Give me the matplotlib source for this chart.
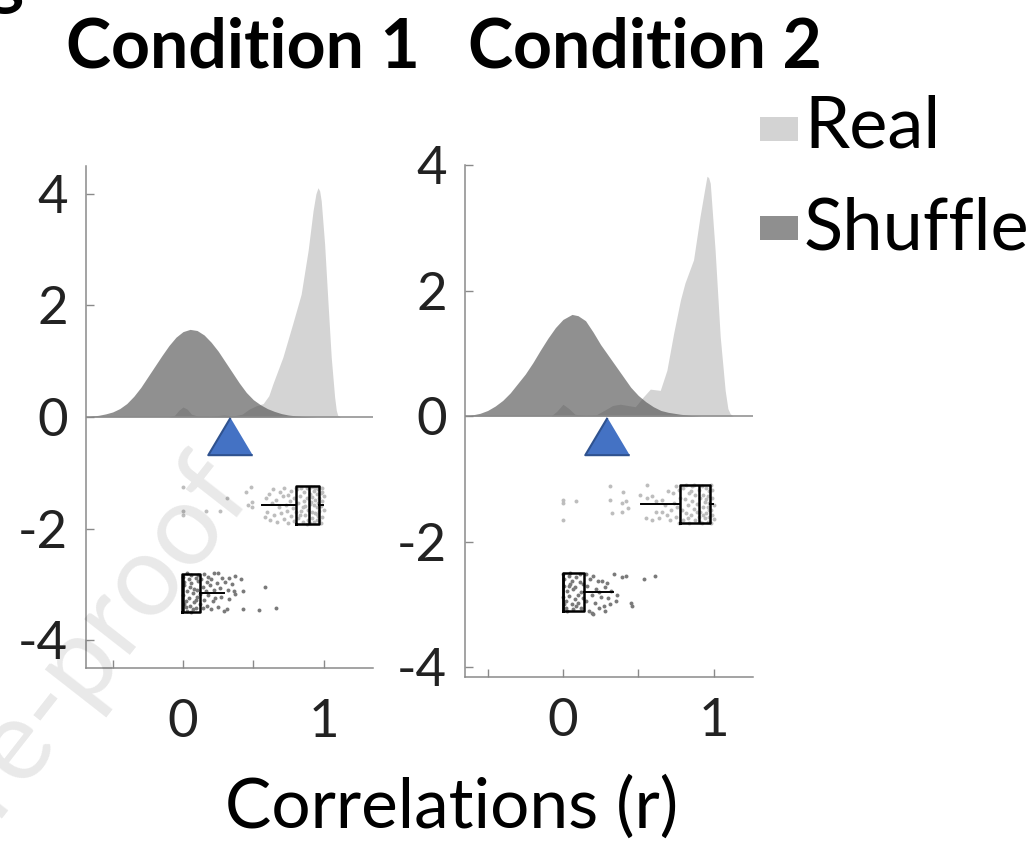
import matplotlib
matplotlib.use('Agg')
import matplotlib.pyplot as plt
from matplotlib.patches import Rectangle

plt.rcParams['font.family'] = ['Lato', 'DejaVu Sans']
plt.rcParams['axes.unicode_minus'] = False

# density curves, (r, density) pairs
c1_real_kde = [(-0.10, 0.0), (-0.06, 0.03), (-0.03, 0.12), (0.0, 0.18), (0.03, 0.14), (0.06, 0.05),
               (0.10, 0.02), (0.20, 0.015), (0.29, 0.035), (0.36, 0.02), (0.42, 0.05), (0.47, 0.14),
               (0.52, 0.20), (0.57, 0.24), (0.61, 0.38), (0.64, 0.60), (0.71, 1.07), (0.78, 1.67),
               (0.84, 2.20), (0.89, 2.99), (0.925, 3.70), (0.945, 4.00), (0.96, 4.11), (0.972, 4.05),
               (0.983, 3.87), (1.007, 3.10), (1.03, 2.09), (1.054, 1.07), (1.078, 0.36), (1.09, 0.12),
               (1.10, 0.03), (1.12, 0.0)]
c1_shuf_kde = [(-0.68, 0.0), (-0.65, 0.015), (-0.60, 0.03), (-0.55, 0.055), (-0.50, 0.09), (-0.45, 0.15),
               (-0.40, 0.24), (-0.35, 0.37), (-0.30, 0.53), (-0.25, 0.72), (-0.20, 0.91), (-0.15, 1.10),
               (-0.10, 1.28), (-0.05, 1.43), (0.0, 1.53), (0.05, 1.57), (0.10, 1.55), (0.15, 1.47),
               (0.20, 1.34), (0.25, 1.18), (0.30, 0.99), (0.35, 0.80), (0.40, 0.61), (0.45, 0.44),
               (0.50, 0.31), (0.55, 0.22), (0.60, 0.15), (0.65, 0.10), (0.70, 0.06), (0.75, 0.035),
               (0.80, 0.02), (0.85, 0.01), (0.90, 0.005), (0.95, 0.0)]
c2_real_kde = [(-0.08, 0.0), (-0.04, 0.08), (0.0, 0.19), (0.04, 0.12), (0.08, 0.03), (0.15, 0.01),
               (0.22, 0.02), (0.28, 0.10), (0.33, 0.17), (0.38, 0.19), (0.43, 0.17), (0.48, 0.15),
               (0.535, 0.31), (0.58, 0.43), (0.646, 0.41), (0.69, 0.73), (0.735, 1.32), (0.78, 1.85),
               (0.81, 2.12), (0.867, 2.49), (0.91, 3.18), (0.94, 3.60), (0.956, 3.82), (0.967, 3.80),
               (0.978, 3.71), (1.01, 2.65), (1.044, 1.27), (1.077, 0.41), (1.095, 0.12), (1.11, 0.04),
               (1.13, 0.0)]
c2_shuf_kde = [(-0.64, 0.0), (-0.60, 0.02), (-0.55, 0.045), (-0.50, 0.09), (-0.45, 0.16), (-0.40, 0.25),
               (-0.35, 0.37), (-0.30, 0.52), (-0.25, 0.67), (-0.20, 0.85), (-0.15, 1.05), (-0.10, 1.24),
               (-0.05, 1.41), (0.0, 1.54), (0.06, 1.62), (0.10, 1.60), (0.15, 1.52), (0.20, 1.34),
               (0.25, 1.14), (0.30, 0.97), (0.35, 0.80), (0.40, 0.63), (0.45, 0.46), (0.50, 0.33),
               (0.55, 0.23), (0.60, 0.15), (0.65, 0.09), (0.70, 0.06), (0.78, 0.03), (0.85, 0.01),
               (0.92, 0.0)]

# raw correlations (r, jitter row)
c1_real_dots = [(0.00, -1.25), (0.00, -1.69), (0.00, -1.75), (0.16, -1.69), (0.26, -1.68), (0.31, -1.46),
                (0.45, -1.34), (0.48, -1.25), (0.46, -1.58), (0.49, -1.62), (0.49, -1.52),
                (0.58, -1.80), (0.59, -1.45), (0.60, -1.70), (0.61, -1.38), (0.62, -1.85), (0.63, -1.55),
                (0.64, -1.30), (0.65, -1.75), (0.66, -1.48), (0.67, -1.88), (0.68, -1.62), (0.69, -1.35),
                (0.70, -1.72), (0.71, -1.42), (0.72, -1.83), (0.72, -1.28), (0.73, -1.58), (0.74, -1.68),
                (0.75, -1.40), (0.75, -1.90), (0.76, -1.50), (0.77, -1.78), (0.77, -1.32), (0.78, -1.63),
                (0.79, -1.45), (0.79, -1.86), (0.80, -1.27), (0.80, -1.70),
                (0.81, -1.30), (0.82, -1.55), (0.82, -1.82), (0.83, -1.42), (0.84, -1.68), (0.84, -1.27),
                (0.85, -1.88), (0.86, -1.50), (0.86, -1.35), (0.87, -1.75), (0.87, -1.60), (0.88, -1.28),
                (0.88, -1.45), (0.89, -1.85), (0.89, -1.66), (0.90, -1.38), (0.90, -1.90), (0.91, -1.52),
                (0.91, -1.25), (0.92, -1.70), (0.92, -1.43), (0.92, -1.82), (0.93, -1.33), (0.93, -1.58),
                (0.93, -1.88), (0.94, -1.48), (0.94, -1.72), (0.94, -1.27), (0.95, -1.62), (0.95, -1.38),
                (0.95, -1.85), (0.96, -1.30), (0.96, -1.55), (0.96, -1.78), (0.97, -1.45), (0.97, -1.68),
                (0.97, -1.25), (0.98, -1.90), (0.98, -1.36), (0.98, -1.60), (0.99, -1.50), (0.99, -1.80),
                (0.99, -1.28), (1.00, -1.66), (1.00, -1.42), (0.83, -1.76), (0.85, -1.62), (0.88, -1.92),
                (0.90, -1.56), (0.93, -1.26), (0.95, -1.74), (0.97, -1.84), (0.99, -1.34)]
c1_shuf_dots = [(0.00, -2.86), (0.01, -3.02), (0.00, -3.20), (0.02, -3.40), (0.01, -2.95), (0.03, -3.12),
                (0.02, -3.30), (0.04, -2.90), (0.03, -3.48), (0.05, -3.05), (0.04, -3.25), (0.06, -2.84),
                (0.05, -3.38), (0.07, -3.15), (0.06, -2.98), (0.08, -3.32), (0.07, -3.45), (0.09, -2.88),
                (0.08, -3.08), (0.10, -3.22), (0.09, -3.42), (0.11, -2.94), (0.10, -3.10), (0.12, -3.35),
                (0.11, -2.83), (0.12, -3.18), (0.01, -3.36), (0.03, -2.80), (0.06, -3.50), (0.09, -3.28),
                (0.13, -2.90), (0.14, -3.05), (0.14, -3.42), (0.15, -2.82), (0.15, -3.28), (0.16, -3.12),
                (0.17, -2.95), (0.17, -3.38), (0.18, -2.86), (0.18, -3.20), (0.19, -3.02), (0.20, -3.45),
                (0.20, -2.91), (0.21, -3.30), (0.22, -2.80), (0.22, -3.10), (0.23, -3.25), (0.24, -2.97),
                (0.25, -2.80), (0.25, -3.40), (0.26, -3.06), (0.27, -3.22), (0.28, -2.88), (0.29, -3.48),
                (0.30, -2.95), (0.31, -3.45), (0.32, -3.10), (0.33, -2.89), (0.33, -3.27), (0.35, -3.00),
                (0.36, -3.12), (0.37, -2.85), (0.37, -3.18), (0.41, -2.91), (0.43, -3.12), (0.43, -3.45),
                (0.54, -3.46), (0.58, -3.05), (0.66, -3.43)]
c2_real_dots = [(0.00, -1.33), (0.00, -1.38), (0.00, -1.65), (0.086, -1.35), (0.314, -1.12), (0.40, -1.21),
                (0.314, -1.33), (0.39, -1.38), (0.42, -1.35), (0.325, -1.54), (0.39, -1.52), (0.43, -1.47),
                (0.51, -1.25), (0.557, -1.10), (0.557, -1.30), (0.59, -1.28), (0.62, -1.35), (0.657, -1.34),
                (0.62, -1.52), (0.657, -1.52), (0.55, -1.62), (0.59, -1.65), (0.69, -1.57), (0.71, -1.65),
                (0.72, -1.50), (0.73, -1.23), (0.74, -1.38), (0.75, -1.12), (0.75, -1.60), (0.76, -1.45),
                (0.77, -1.70), (0.77, -1.18), (0.78, -1.30), (0.68, -1.42), (0.70, -1.20), (0.64, -1.62),
                (0.79, -1.50), (0.80, -1.15), (0.80, -1.65), (0.81, -1.32), (0.82, -1.55), (0.82, -1.10),
                (0.83, -1.42), (0.84, -1.70), (0.84, -1.22), (0.85, -1.58), (0.86, -1.35), (0.86, -1.12),
                (0.87, -1.48), (0.88, -1.66), (0.88, -1.25), (0.89, -1.40), (0.90, -1.18), (0.90, -1.60),
                (0.91, -1.30), (0.91, -1.52), (0.92, -1.70), (0.92, -1.12), (0.93, -1.44), (0.93, -1.26),
                (0.94, -1.62), (0.94, -1.36), (0.95, -1.15), (0.95, -1.55), (0.96, -1.68), (0.96, -1.28),
                (0.96, -1.45), (0.97, -1.20), (0.97, -1.60), (0.97, -1.38), (0.98, -1.10), (0.98, -1.50),
                (0.98, -1.70), (0.99, -1.30), (0.99, -1.58), (0.99, -1.18), (1.00, -1.42), (1.00, -1.64),
                (0.83, -1.62), (0.85, -1.20), (0.87, -1.10), (0.89, -1.52), (0.91, -1.68), (0.93, -1.58),
                (0.95, -1.32), (0.97, -1.50)]
c2_shuf_dots = [(0.00, -2.52), (0.01, -2.70), (0.00, -2.88), (0.02, -3.05), (0.01, -2.60), (0.03, -2.78),
                (0.02, -2.95), (0.04, -2.55), (0.03, -3.10), (0.05, -2.68), (0.04, -2.86), (0.06, -3.00),
                (0.05, -2.50), (0.07, -2.75), (0.06, -2.62), (0.08, -2.92), (0.07, -3.08), (0.09, -2.56),
                (0.08, -2.72), (0.10, -2.85), (0.09, -3.02), (0.11, -2.64), (0.10, -2.98), (0.12, -2.80),
                (0.11, -2.52), (0.13, -2.90), (0.12, -3.06), (0.13, -2.68), (0.01, -3.00), (0.04, -2.70),
                (0.15, -2.52), (0.15, -2.95), (0.16, -2.70), (0.17, -3.10), (0.18, -2.60), (0.19, -2.85),
                (0.19, -3.13), (0.20, -2.54), (0.21, -2.97), (0.22, -2.75), (0.23, -2.62), (0.24, -3.05),
                (0.25, -2.88), (0.26, -2.63), (0.27, -3.02), (0.28, -2.72), (0.28, -3.10), (0.29, -2.66),
                (0.30, -2.90), (0.31, -3.00), (0.32, -2.78), (0.34, -2.52), (0.35, -2.94), (0.36, -2.85),
                (0.39, -2.57), (0.42, -2.54), (0.45, -2.98), (0.46, -3.03), (0.535, -2.60), (0.61, -2.54),
                (0.20, -3.15), (0.24, -2.80)]

# box summaries: whisker low, q1, median, q3, whisker high
c1_real_box = [0.56, 0.80, 0.895, 0.97, 0.995]
c1_shuf_box = [-0.005, -0.005, 0.0, 0.12, 0.295]
c2_real_box = [0.518, 0.78, 0.90, 0.978, 0.996]
c2_shuf_box = [0.0, 0.0, 0.0, 0.137, 0.332]

# mean real-vs-shuffle difference markers
c1_marker = 0.333
c2_marker = 0.292

REAL_C = '#d4d4d4'
SHUF_C = '#4d4d4d'
AXIS_C = '#8a8a8a'
TRI = [(0, 0.84), (-1, -0.84), (1, -0.84)]


def to_stats(b):
    return dict(whislo=b[0], q1=b[1], med=b[2], q3=b[3], whishi=b[4], fliers=[])


def draw_panel(ax, real_kde, shuf_kde, real_dots, shuf_dots, real_box, shuf_box,
               rows, box_h, marker_x, marker_y, xlim, ylim, xpad):
    rx, ry = zip(*real_kde)
    sx, sy = zip(*shuf_kde)
    ax.fill_between(rx, 0, ry, color=REAL_C, lw=0, zorder=1)
    ax.fill_between(sx, 0, sy, color=SHUF_C, alpha=0.62, lw=0, zorder=2)
    ax.axhline(0, color=AXIS_C, lw=1.1, zorder=3)

    dx, dy = zip(*real_dots)
    ax.scatter(dx, dy, s=8, color='#bdbdbd', lw=0, zorder=3)
    dx, dy = zip(*shuf_dots)
    ax.scatter(dx, dy, s=8, color='#7a7a7a', lw=0, zorder=3)

    ax.bxp([to_stats(real_box), to_stats(shuf_box)], positions=rows, widths=box_h,
           orientation='horizontal', showcaps=False, showfliers=False, manage_ticks=False,
           boxprops=dict(color='black', lw=1.8), medianprops=dict(color='black', lw=1.8),
           whiskerprops=dict(color='black', lw=1.4), zorder=4)

    ax.plot([marker_x], [marker_y], marker=TRI, ms=32, mfc='#4472c4', mec='#2f528f',
            mew=1.5, ls='none', zorder=5, clip_on=False)

    ax.set_xlim(*xlim)
    ax.set_ylim(*ylim)
    ax.set_xticks([-0.5, 0, 0.5, 1])
    ax.set_xticklabels(['', '0', '', '1'])
    ax.set_yticks([-4, -2, 0, 2, 4])
    ax.set_facecolor('none')
    for s in ['top', 'right']:
        ax.spines[s].set_visible(False)
    for s in ['left', 'bottom']:
        ax.spines[s].set_color(AXIS_C)
        ax.spines[s].set_linewidth(1.1)
    ax.tick_params(direction='in', length=6, width=1, color=AXIS_C, labelcolor='#222222',
                   labelsize=38)
    ax.tick_params(axis='y', pad=13)
    ax.tick_params(axis='x', pad=xpad)


fig = plt.figure(figsize=(10.32, 8.41), dpi=100)
ax1 = fig.add_axes([0.0833, 0.2057, 0.278, 0.597])
ax2 = fig.add_axes([0.4506, 0.1954, 0.2788, 0.6084])

draw_panel(ax1, c1_real_kde, c1_shuf_kde, c1_real_dots, c1_shuf_dots, c1_real_box, c1_shuf_box,
           [-1.58, -3.16], 0.68, c1_marker, -0.345, (-0.69, 1.35), (-4.5, 4.5), 22)
draw_panel(ax2, c2_real_kde, c2_shuf_kde, c2_real_dots, c2_shuf_dots, c2_real_box, c2_shuf_box,
           [-1.40, -2.80], 0.61, c2_marker, -0.31, (-0.65, 1.26), (-4.15, 4.0), 15.5)

fig.text(243 / 1032, 1 - 67 / 841, 'Condition 1', ha='center', va='baseline',
         fontsize=49, fontweight='bold')
fig.text(645 / 1032, 1 - 67 / 841, 'Condition 2', ha='center', va='baseline',
         fontsize=49, fontweight='bold')
fig.text(452 / 1032, 1 - 828 / 841, 'Correlations (r)', ha='center', va='baseline', fontsize=50)

# cut-off panel letter at the top left
fig.text(-0.012, 1.0, 'g', ha='left', va='baseline', fontsize=49, fontweight='bold')

# legend
for label, col, yc, yb in [('Real', '#d3d3d3', 129, 148), ('Shuffle', '#8f8f8f', 228, 250)]:
    fig.add_artist(Rectangle((760 / 1032, 1 - (yc + 12) / 841), 38 / 1032, 24 / 841,
                             transform=fig.transFigure, color=col, lw=0))
    fig.text(804 / 1032, 1 - yb / 841, label, ha='left', va='baseline', fontsize=52)

# faint watermark
fig.text(255 / 1032, 1 - 495 / 841, 'Journal Pre-proof', ha='right', va='baseline',
         rotation=52, rotation_mode='anchor', fontsize=82, color='black', alpha=0.09)

fig.savefig('out.png', dpi=100)
